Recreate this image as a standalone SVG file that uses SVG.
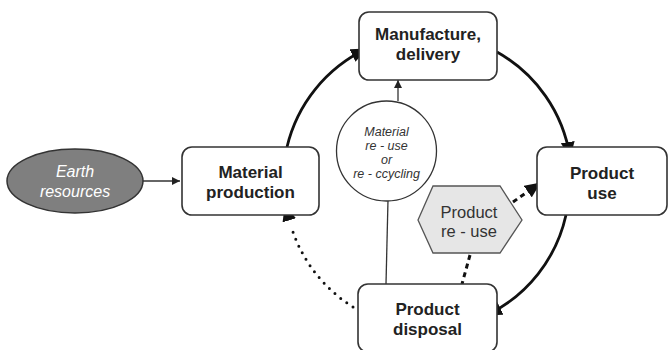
<svg xmlns="http://www.w3.org/2000/svg" width="670" height="350" viewBox="0 0 670 350">
<defs>
<style>
.box{fill:#fff;stroke:#333;stroke-width:1.6}
.bt{font-family:"Liberation Sans",Arial,sans-serif;font-weight:bold;font-size:17px;fill:#222;text-anchor:middle}
.it{font-family:"Liberation Sans",Arial,sans-serif;font-style:italic;text-anchor:middle}
.reg{font-family:"Liberation Sans",Arial,sans-serif;font-size:16.5px;fill:#333;text-anchor:middle}
.arc{fill:none;stroke:#111;stroke-width:2.8}
.thin{fill:none;stroke:#333;stroke-width:1.3}
</style>
<marker id="big" markerUnits="userSpaceOnUse" markerWidth="16" markerHeight="14" viewBox="0 0 16 14" refX="15" refY="7" orient="auto">
<path d="M0,0 L16,7 L0,14 Z" fill="#111"/>
</marker>
<marker id="small" markerUnits="userSpaceOnUse" markerWidth="8" markerHeight="8" viewBox="0 0 8 8" refX="8" refY="4" orient="auto">
<path d="M0,0 L8,4 L0,8 Z" fill="#222"/>
</marker>
</defs>
<rect width="670" height="350" fill="#fff"/>
<g id="connectors">
<line class="thin" x1="143" y1="181" x2="180" y2="181" marker-end="url(#small)"/>
<path class="arc" d="M287,147 A146,146 0 0 1 366,49" marker-end="url(#big)"/>
<path class="arc" d="M497,52 A146,146 0 0 1 570,157" marker-end="url(#big)"/>
<path class="arc" d="M566,215 A146,146 0 0 1 487,315" marker-end="url(#big)"/>
<path d="M353,307 A146,146 0 0 1 291,226" fill="none" stroke="#111" stroke-width="3" stroke-linecap="round" stroke-dasharray="0 7.5"/>
<path d="M291,226 L285,206" fill="none" stroke="none" marker-end="url(#big)"/>
<line x1="513" y1="202" x2="540" y2="183" stroke="#111" stroke-width="3" stroke-dasharray="5 4" marker-end="url(#big)"/>
<line x1="470" y1="255" x2="462" y2="284" stroke="#111" stroke-width="3" stroke-dasharray="5 4"/>
<line class="thin" x1="398" y1="101" x2="398" y2="80" marker-end="url(#small)"/>
<line class="thin" x1="388" y1="200" x2="386" y2="284"/>
</g>
<g id="earth">
<ellipse cx="75" cy="181" rx="68" ry="32" fill="#7f7f7f" stroke="#333" stroke-width="1.5"/>
<text class="it" x="75" y="177" font-size="16" fill="#fff">Earth</text>
<text class="it" x="75" y="197" font-size="16" fill="#fff">resources</text>
</g>
<g id="material-production">
<rect class="box" x="182" y="147" width="137" height="68" rx="10"/>
<text class="bt" x="250.5" y="178">Material</text>
<text class="bt" x="250.5" y="198">production</text>
</g>
<g id="manufacture">
<rect class="box" x="359" y="12" width="138" height="68" rx="10"/>
<text class="bt" x="428" y="40">Manufacture,</text>
<text class="bt" x="428" y="60">delivery</text>
</g>
<g id="product-use">
<rect class="box" x="537" y="147" width="130" height="68" rx="10"/>
<text class="bt" x="602" y="179">Product</text>
<text class="bt" x="602" y="199">use</text>
</g>
<g id="product-disposal">
<rect class="box" x="358" y="284" width="139" height="68" rx="10"/>
<text class="bt" x="427.5" y="315">Product</text>
<text class="bt" x="427.5" y="335">disposal</text>
</g>
<g id="material-reuse">
<circle cx="386.5" cy="151" r="50" fill="#fff" stroke="#333" stroke-width="1.3"/>
<text class="it" x="386.5" y="136" font-size="12.5" fill="#333">Material</text>
<text class="it" x="386.5" y="150" font-size="12.5" fill="#333">re - use</text>
<text class="it" x="386.5" y="164" font-size="12.5" fill="#333">or</text>
<text class="it" x="386.5" y="178" font-size="12.5" fill="#333">re - ccycling</text>
</g>
<g id="product-reuse">
<polygon points="418,220 433,186 500,186 522,220 500,253 433,253" fill="#e6e6e6" stroke="#555" stroke-width="1.3"/>
<text class="reg" x="469" y="218">Product</text>
<text class="reg" x="469" y="237">re - use</text>
</g>
</svg>
